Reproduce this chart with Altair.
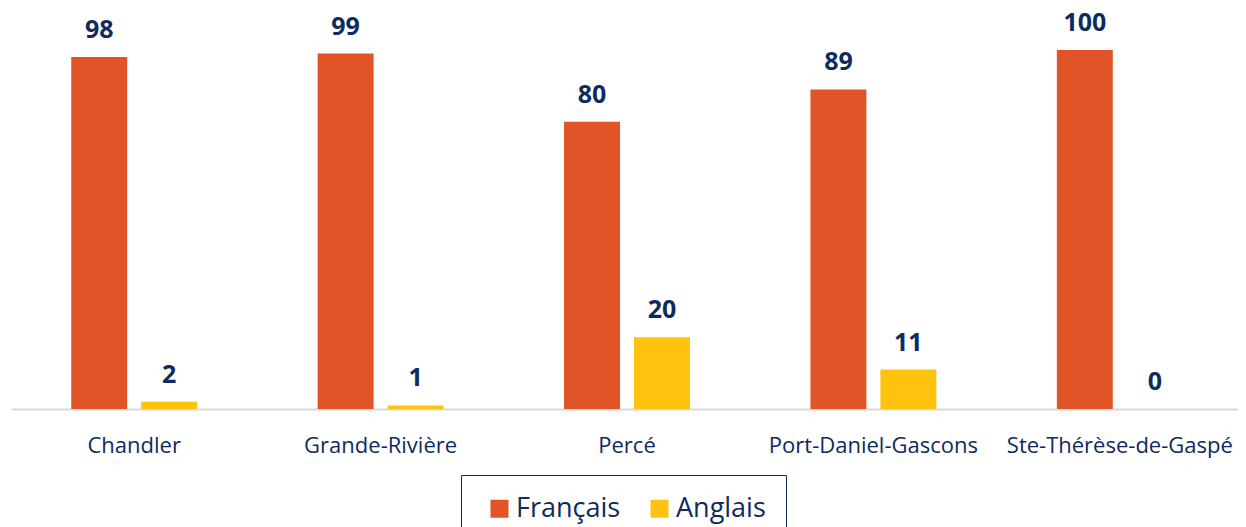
import altair as alt
import pandas as pd

villes = ["Chandler", "Grande-Rivière", "Percé", "Port-Daniel-Gascons", "Ste-Thérèse-de-Gaspé"]
francais = [98, 99, 80, 89, 100]
anglais = [2, 1, 20, 11, 0]
langues = ["Français", "Anglais"]
couleurs = ["#E05427", "#FFC20E"]

rows = []
for v, f, a in zip(villes, francais, anglais):
    rows.append({"ville": v, "langue": "Français", "valeur": f})
    rows.append({"ville": v, "langue": "Anglais", "valeur": a})
df = pd.DataFrame(rows)

navy = "#0E2A5E"

x = alt.X("ville:N", sort=villes, title=None,
          scale=alt.Scale(paddingInner=0.489, paddingOuter=0.2445, round=False, range=[0, 1232]),
          axis=alt.Axis(labelAngle=0, labelFontSize=22, labelColor=navy, labelFont="Open Sans",
                        ticks=False, tickSize=0, domainColor="#D9D9D9", domainWidth=2,
                        labelPadding=43, labelBaseline="alphabetic", labelLimit=400,
                        labelOverlap=False))
xo = alt.XOffset("langue:N", sort=langues, scale=alt.Scale(paddingInner=0.2, paddingOuter=0, round=False))
y = alt.Y("valeur:Q", scale=alt.Scale(domain=[0, 110]), axis=None)

bars = alt.Chart(df).mark_bar().encode(
    x=x, xOffset=xo, y=y,
    color=alt.Color("langue:N", sort=langues, scale=alt.Scale(domain=langues, range=couleurs),
                    legend=alt.Legend(title=None, orient="none", legendX=450, legendY=461,
                                      direction="horizontal", labelFontSize=27, labelColor=navy,
                                      labelFont="Open Sans", symbolType="square", symbolSize=324,
                                      symbolStrokeWidth=0, strokeColor=navy, symbolOffset=5,
                                      padding=20, columnPadding=20, labelOffset=3)),
)
text = alt.Chart(df).mark_text(baseline="alphabetic", dy=-19, fontSize=25, fontWeight="bold",
                               color=navy, font="Open Sans").encode(
    x=x, xOffset=xo, y=y, text="valeur:Q")

chart = (bars + text).properties(
    width=1227, height=395,
    autosize=alt.AutoSizeParams(type="none"),
    padding={"left": 3, "top": 6, "right": 0, "bottom": 118},
).configure_view(stroke=None)

chart.save("out.html", embed_options={"renderer": "svg", "actions": False})
